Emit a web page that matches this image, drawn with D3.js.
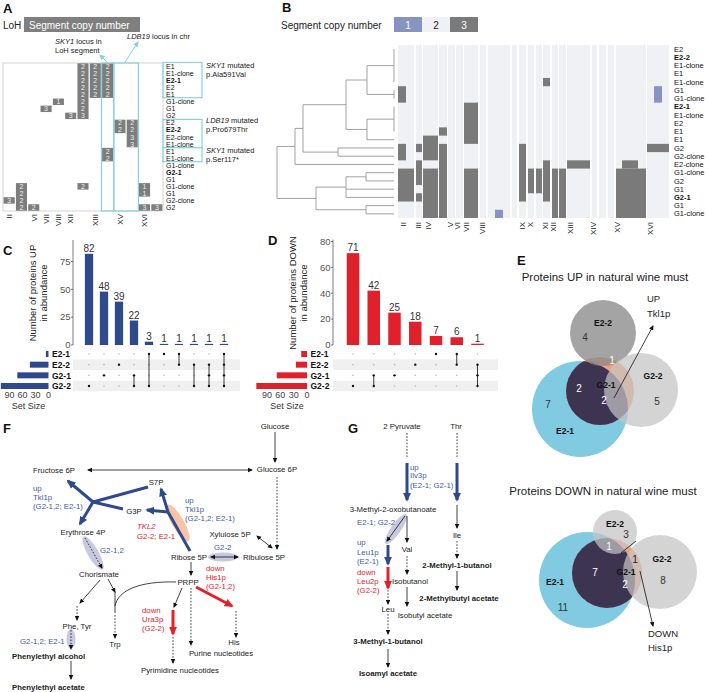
<!DOCTYPE html>
<html><head><meta charset="utf-8">
<script src="https://cdn.jsdelivr.net/npm/d3@7"></script>
<style>body{margin:0;background:#fff}svg{display:block}</style>
</head><body>
<script>
// ================= DATA =================
// Panel A
const aRowLabels = ["E1","E1-clone","E2-1","E2","E1","G1-clone","G1","G2","E2","E2-2","E2-clone","E1-clone","E1","E1-clone","G1-clone","G2-1","G1","G1-clone","G1","G2-clone","G2"];
const aColLabels = ["II","","VI","VII","VIII","XII","","XIII","","XV","","XVI",""];
// [column, first row, copy numbers]
const aSegments = [
  [6,0,[2,2,2,2,2,2,2,3]],[7,0,[2,2,2,2,2]],[8,0,[2,2,2,2,2]],[4,5,[1]],[3,6,[3]],[5,7,[3]],
  [9,8,[2,2]],[10,8,[2,2,3,3]],[8,12,[2,2]],[6,17,[2]],[11,17,[1,1]],[0,19,[3]],
  [1,17,[2,2,2,2]],[2,20,[2]],[11,20,[3]],[12,20,[3]]
];
// Panel B
const bRowLabels = ["E2","E2-2","E1-clone","E1","E1-clone","G1","G1-clone","E2-1","E1-clone","E2","E1","E1","G2","G2-clone","E2-clone","G1-clone","G2","G1","G2-1","G1","G1-clone"];
const bChromLabels = ["II","III","IV","V","VI","VII","VIII","IX","X","XI","XII","XIII","XIV","XV","XVI"];
const bChromPos = [5,20,30,52,59,68,84,124,132,147,155,172,195,219,252];
const bSegments = [[0,16],[18,24],[25,40],[41,49],[50,57],[58,65],[66,80],[82,88],[90,112],[114,119],[121,128],[130,136],[138,144],[145,152],[154,160],[161,168],[169,192],[194,199],[201,208],[210,216],[218,248],[249,271]];
// [start, end, firstRow, lastRow, copy number]
const bBlocks = [
  [0,8,5,6,3],[145,152,4,4,3],[66,80,7,11,3],[41,49,10,10,3],[25,40,11,13,3],[41,49,12,20,3],
  [0,8,12,13,3],[18,24,12,12,3],[18,24,14,16,3],[18,24,18,18,3],[0,16,15,18,3],[25,40,15,20,3],
  [66,80,15,20,3],[97,105,20,20,1],[121,128,12,18,3],[130,136,15,17,3],[138,144,15,17,3],
  [145,152,14,18,3],[154,160,15,20,3],[161,168,15,20,3],[169,192,14,14,3],[218,248,15,20,3],
  [224,240,14,14,3],[256,264,5,6,1],[249,271,12,12,3]
];
// dendrogram: [height, children...], leaves = row index
const bTree = [117,
  [99,[91,[48,[27,[0,0,1,2,3,4],[0,5,6]],[27,[0,7,8,9,10],11]],[56,12,13]],14],
  [78,[48,[28,15,16],17,18],[28,19,20]]];
// Panel C / D (UpSet)
const setNames = ["E2-1","E2-2","G2-1","G2-2"];
const upCounts = [82,48,39,22,3,1,1,1,1,1];
const upMembers = [["G2-2"],["G2-1"],["E2-2"],["G2-1","G2-2"],["E2-1","G2-2"],["E2-1"],["E2-1","E2-2"],["E2-2","G2-2"],["E2-2","G2-1","G2-2"],["E2-1","E2-2","G2-1","G2-2"]];
const upTicks = [0,25,50,75];
const downCounts = [71,42,25,18,7,6,1];
const downMembers = [["G2-2"],["G2-1","G2-2"],["G2-1"],["E2-2"],["E2-1"],["E2-1","E2-2"],["E2-2","G2-1","G2-2"]];
const downTicks = [0,20,40,60,80];
const setSizeTicks = [90,60,30,0];
// Panel E (Venn)
const vennUpCounts = {"E2-2":4,"E2-2&G2-1":1,"E2-1&G2-1":2,"E2-1&G2-1&G2-2":2,"G2-2":5,"E2-1":7};
const vennDownCounts = {"E2-2":3,"E2-1&E2-2&G2-1":1,"G2-1&G2-2":1,"E2-1&G2-1":7,"E2-1&G2-1&G2-2":2,"G2-2":8,"E2-1":11};

// ================= DRAW =================
const FONT = '"Liberation Sans", Arial, Helvetica, sans-serif';
const svg = d3.select("body").append("svg").attr("width",708).attr("height",692).style("font-family",FONT);
const defs = svg.append("defs");
function marker(id,color,size){
  defs.append("marker").attr("id",id).attr("viewBox","0 0 10 10").attr("refX",8).attr("refY",5)
    .attr("markerUnits","userSpaceOnUse").attr("markerWidth",size).attr("markerHeight",size)
    .attr("orient","auto-start-reverse").append("path").attr("d","M0,0.5 L10,5 L0,9.5 z").attr("fill",color);
}
const BLUE="#2f4a8c", RED="#e3212b", TBLUE="#3e5aa6", CYAN="#86d4da";
marker("mk","#111",5); marker("mb",BLUE,9); marker("mr",RED,9); marker("mc",CYAN,6);

function T(g,x,y,s,o={}){
  const t=g.append("text").attr("x",x).attr("y",y).text(s).attr("font-size",o.fs||8).attr("fill",o.fill||"#222");
  if(o.bold) t.attr("font-weight","bold"); if(o.italic) t.attr("font-style","italic");
  if(o.anchor) t.attr("text-anchor",o.anchor);
  if(o.rot!=null) t.attr("transform",`rotate(${o.rot},${x},${y})`);
  return t;
}
function rich(g,x,y,parts,o={}){
  const t=T(g,x,y,"",o); parts.forEach(p=>{const s=t.append("tspan").text(p[0]); if(p[1]) s.attr("font-style","italic");}); return t;
}
function L(g,x1,y1,x2,y2,st){
  const s={s:{c:"#111",w:0.8,m:"mk"},d:{c:"#111",w:0.8,m:"mk",dash:"1.6,1.6"},dn:{c:"#111",w:0.8,dash:"1.6,1.6"},
    n:{c:"#111",w:0.8},B:{c:BLUE,w:3,m:"mb"},b:{c:BLUE,w:3},R:{c:RED,w:3,m:"mr"},S:{c:"#111",w:0.8,m:"mk",two:true}}[st];
  const l=g.append("line").attr("x1",x1).attr("y1",y1).attr("x2",x2).attr("y2",y2).attr("stroke",s.c).attr("stroke-width",s.w);
  if(s.dash) l.attr("stroke-dasharray",s.dash);
  if(s.m) l.attr("marker-end",`url(#${s.m})`);
  if(s.two) l.attr("marker-start",`url(#${s.m})`);
  return l;
}
const letter=(x,y,s)=>T(svg,x,y,s,{fs:13,bold:true,fill:"#111"});

// ---------- Panel A ----------
const gA=svg.append("g");
letter(3,13,"A");
T(gA,3,29,"LoH",{fs:10,fill:"#222"});
gA.append("rect").attr("x",24).attr("y",17).attr("width",116).attr("height",15).attr("fill","#7f7f7f");
T(gA,29,28.5,"Segment copy number",{fs:10,fill:"#fff"});
const aX=d3.scaleBand().domain(d3.range(aColLabels.length)).range([3,163]).paddingInner(0.1).paddingOuter(0.05);
const aY=d3.scaleBand().domain(d3.range(aRowLabels.length)).range([63,211]);
gA.append("rect").attr("x",3).attr("y",63).attr("width",160).attr("height",148).attr("fill","none").attr("stroke","#d4d4d4");
aSegments.forEach(([c,r,vals])=>{
  gA.append("rect").attr("x",aX(c)).attr("y",aY(r)+0.3).attr("width",aX.bandwidth()).attr("height",aY.step()*vals.length-0.6).attr("fill","#7d7d7d");
  vals.forEach((v,i)=>T(gA,aX(c)+aX.bandwidth()/2,aY(r+i)+aY.step()/2+2.5,v,{fs:7,fill:"#eee",anchor:"middle"}));
});
const cyanBox=(x,y,w,h)=>gA.append("rect").attr("x",x).attr("y",y).attr("width",w).attr("height",h).attr("fill","none").attr("stroke",CYAN).attr("stroke-width",1.2);
cyanBox(aX(8)-0.6,63,aX(9)-aX(8),148);
cyanBox(aX(9)-0.6,63,aX(11)-aX(9),148);
cyanBox(163,aY(0)-0.5,39,aY.step()*5);
cyanBox(163,aY(8),39,aY.step()*4);
cyanBox(163,aY(12),39,aY.step()*2);
aRowLabels.forEach((s,i)=>T(gA,166,aY(i)+aY.step()/2+2.5,s,{fs:7,bold:["E2-1","E2-2","G2-1"].includes(s),fill:"#111"}));
aColLabels.forEach((s,i)=>{ if(s) T(gA,aX(i)+aX.bandwidth()/2+2.8,214,s,{fs:8,rot:-90,anchor:"end",fill:"#222"}); });
rich(gA,206,68,[["SKY1",1],[" mutated"]],{fs:7.5});
T(gA,206,77,"p.Ala591Val",{fs:7.5});
rich(gA,206,123,[["LDB19",1],[" mutated"]],{fs:7.5});
T(gA,206,132,"p.Pro679Thr",{fs:7.5});
rich(gA,206,153,[["SKY1",1],[" mutated"]],{fs:7.5});
T(gA,206,162,"p.Ser117*",{fs:7.5});
rich(gA,55,44,[["SKY1",1],[" locus in"]],{fs:7.5});
T(gA,55,53,"LoH segment",{fs:7.5});
rich(gA,127,39,[["LDB19",1],[" locus in chr"]],{fs:7.5});
gA.append("line").attr("x1",107).attr("y1",62).attr("x2",100).attr("y2",55).attr("stroke",CYAN).attr("stroke-width",1).attr("marker-end","url(#mc)");
gA.append("line").attr("x1",125).attr("y1",62).attr("x2",138).attr("y2",42).attr("stroke",CYAN).attr("stroke-width",1).attr("marker-end","url(#mc)");

// ---------- Panel B ----------
const gB=svg.append("g");
letter(282,12,"B");
T(gB,281,29,"Segment copy number",{fs:10});
[["1","#8794c2","#fff"],["2","#eff1f5","#222"],["3","#7a7a7a","#fff"]].forEach((d,i)=>{
  gB.append("rect").attr("x",394+28*i).attr("y",17).attr("width",28).attr("height",15).attr("fill",d[1]);
  T(gB,408+28*i,28.5,d[0],{fs:10,fill:d[2],anchor:"middle"});
});
const bX=d3.scaleLinear().domain([0,271]).range([398,669]);
const bY=d3.scaleBand().domain(d3.range(bRowLabels.length)).range([45,218]);
bSegments.forEach(([a,b])=>gB.append("rect").attr("x",bX(a)).attr("y",45).attr("width",bX(b)-bX(a)).attr("height",173).attr("fill","#eff1f5"));
bBlocks.forEach(([a,b,r0,r1,cn])=>gB.append("rect").attr("x",bX(a)).attr("y",bY(r0)).attr("width",bX(b)-bX(a)).attr("height",bY(r1)+bY.step()-bY(r0)).attr("fill",cn===1?"#8794c2":"#7a7a7a"));
bRowLabels.forEach((s,i)=>T(gB,674,bY(i)+bY.step()/2+2.6,s,{fs:7.5,bold:[1,7,18].includes(i),fill:"#111"}));
bChromLabels.forEach((s,i)=>T(gB,bX(bChromPos[i])+2.8,222,s,{fs:8,rot:-90,anchor:"end",fill:"#222"}));
function dend(node){
  if(typeof node==="number") return {x:394,y:bY(node)+bY.step()/2};
  const h=node[0], kids=node.slice(1).map(dend), x=394-h;
  const ys=kids.map(k=>k.y), y0=d3.min(ys), y1=d3.max(ys);
  gB.append("line").attr("x1",x).attr("x2",x).attr("y1",y0).attr("y2",y1).attr("stroke","#8a8a8a").attr("stroke-width",0.8);
  kids.forEach(k=>{ if(k.x!==x) gB.append("line").attr("x1",x).attr("x2",k.x).attr("y1",k.y).attr("y2",k.y).attr("stroke","#8a8a8a").attr("stroke-width",0.8); });
  return {x,y:(y0+y1)/2};
}
dend(bTree);

// ---------- Panels C & D (UpSet) ----------
function upset(cfg){
  const g=svg.append("g");
  const n=cfg.counts.length;
  const x=d3.scalePoint().domain(d3.range(n)).range(cfg.xr);
  const y=d3.scaleLinear().domain([0,cfg.ymax]).range([345,cfg.ytop]);
  const rowY=d3.scalePoint().domain(setNames).range([354,386]);
  [1,3].forEach(i=>g.append("rect").attr("x",cfg.axisX).attr("y",rowY(setNames[i])-5.3).attr("width",cfg.bandW).attr("height",10.6).attr("fill","#f0f0f0"));
  g.append("line").attr("x1",cfg.axisX).attr("x2",cfg.axisX).attr("y1",345).attr("y2",cfg.ytop-2).attr("stroke","#444").attr("stroke-width",0.7);
  cfg.ticks.forEach(t=>{
    g.append("line").attr("x1",cfg.axisX-2).attr("x2",cfg.axisX).attr("y1",y(t)).attr("y2",y(t)).attr("stroke","#444").attr("stroke-width",0.7);
    T(g,cfg.axisX-2.5,y(t)+3.3,t,{fs:9.5,anchor:"end",fill:"#555"});
  });
  T(g,cfg.axisX-37,293,cfg.title1,{fs:9.5,rot:-90,anchor:"middle",fill:"#222"});
  T(g,cfg.axisX-26,293,"in abundance",{fs:9.5,rot:-90,anchor:"middle",fill:"#222"});
  cfg.counts.forEach((v,i)=>{
    g.append("rect").attr("x",x(i)-cfg.bw/2).attr("y",y(v)).attr("width",cfg.bw).attr("height",345-y(v)).attr("fill",cfg.color);
    T(g,x(i),y(v)-2,v,{fs:10,anchor:"middle",fill:"#333"});
  });
  cfg.members.forEach((m,i)=>{
    setNames.forEach(s=>{ if(!m.includes(s)) g.append("circle").attr("cx",x(i)).attr("cy",rowY(s)).attr("r",0.8).attr("fill","#bbb"); });
    const ys=m.map(s=>rowY(s));
    if(ys.length>1) g.append("line").attr("x1",x(i)).attr("x2",x(i)).attr("y1",d3.min(ys)).attr("y2",d3.max(ys)).attr("stroke","#222").attr("stroke-width",0.9);
    ys.forEach(yy=>g.append("circle").attr("cx",x(i)).attr("cy",yy).attr("r",1.2).attr("fill","#111"));
  });
  const sizes=setNames.map(s=>d3.sum(cfg.counts.filter((c,i)=>cfg.members[i].includes(s))));
  const sx=d3.scaleLinear().domain([0,90]).range([cfg.s0,cfg.s0-cfg.s90]);
  setNames.forEach((s,i)=>{
    g.append("rect").attr("x",sx(sizes[i])).attr("y",rowY(s)-3).attr("width",cfg.s0-sx(sizes[i])).attr("height",6).attr("fill",cfg.color);
    T(g,cfg.s0+3.5,rowY(s)+3.2,s,{fs:8.5,bold:true,fill:"#111"});
  });
  setSizeTicks.forEach(t=>T(g,sx(t),398,t,{fs:9,anchor:"middle",fill:"#444"}));
  T(g,cfg.s0-20,409,"Set Size",{fs:9,anchor:"middle",fill:"#333"});
}
letter(3,255,"C");
upset({counts:upCounts,members:upMembers,ticks:upTicks,ymax:92.6,ytop:242,xr:[89,224],bw:8.3,color:"#2f4a8c",axisX:73,bandW:167,title1:"Number of proteins UP",s0:48.5,s90:39});
letter(268,245,"D");
upset({counts:downCounts,members:downMembers,ticks:downTicks,ymax:80,ytop:241.5,xr:[353,477.5],bw:12.5,color:"#e0202a",axisX:333,bandW:165,title1:"Number of proteins DOWN",s0:307,s90:40});

// ---------- Panel E (Venn) ----------
letter(517,265,"E");
function venn(cfg){
  const g=svg.append("g");
  const C=cfg.c, id=cfg.id;
  g.append("circle").attr("cx",C.E21[0]).attr("cy",C.E21[1]).attr("r",C.E21[2]).attr("fill","#80cbe2");
  g.append("circle").attr("cx",C.G21[0]).attr("cy",C.G21[1]).attr("r",C.G21[2]).attr("fill","#f2a07c");
  defs.append("clipPath").attr("id",id).append("circle").attr("cx",C.E21[0]).attr("cy",C.E21[1]).attr("r",C.E21[2]);
  g.append("circle").attr("cx",C.G21[0]).attr("cy",C.G21[1]).attr("r",C.G21[2]).attr("fill","#3d3452").attr("clip-path",`url(#${id})`);
  g.append("circle").attr("cx",C.E22[0]).attr("cy",C.E22[1]).attr("r",C.E22[2]).attr("fill",cfg.e22col).attr("fill-opacity",cfg.e22op);
  g.append("circle").attr("cx",C.G22[0]).attr("cy",C.G22[1]).attr("r",C.G22[2]).attr("fill","#c4c4c4").attr("fill-opacity",0.72);
  cfg.labels.forEach(l=>T(g,l[0],l[1],l[2],{fs:l[4]?8.5:10,bold:!!l[4],fill:l[3],anchor:"middle"}));
  return g;
}
T(svg,605,281,"Proteins UP in natural wine must",{fs:11.5,anchor:"middle",fill:"#222"});
const vu=venn({id:"cu",c:{E21:[580,409,48],G21:[600,391,34],E22:[603,333,33],G22:[641,390,37]},e22col:"#8a8a8a",e22op:0.78,
  labels:[[603,326,"E2-2","#111",1],[585,341,vennUpCounts["E2-2"],"#333"],[612,364,vennUpCounts["E2-2&G2-1"],"#fff"],
    [606,388,"G2-1","#111",1],[579,392,vennUpCounts["E2-1&G2-1"],"#fff"],[604,404,vennUpCounts["E2-1&G2-1&G2-2"],"#fff"],
    [653,379,"G2-2","#111",1],[657,405,vennUpCounts["G2-2"],"#333"],[548,408,vennUpCounts["E2-1"],"#333"],[565,434,"E2-1","#111",1]]});
L(vu,614,398,653,326,"s");
T(svg,647,302,"UP",{fs:9.5});
T(svg,647,317,"Tkl1p",{fs:9.5});
T(svg,603,495,"Proteins DOWN in natural wine must",{fs:11.5,anchor:"middle",fill:"#222"});
const vd=venn({id:"cd",c:{E21:[587,580,48],G21:[607,573,35],E22:[615,532,22],G22:[660,572,37]},e22col:"#c4c4c4",e22op:0.72,
  labels:[[615,527,"E2-2","#111",1],[626,538,vennDownCounts["E2-2"],"#333"],[609,550,vennDownCounts["E2-1&E2-2&G2-1"],"#fff"],
    [635,563,vennDownCounts["G2-1&G2-2"],"#222"],[662,562,"G2-2","#111",1],[595,576,vennDownCounts["E2-1&G2-1"],"#fff"],
    [626,575,"G2-1","#111",1],[625,588,vennDownCounts["E2-1&G2-1&G2-2"],"#fff"],[663,584,vennDownCounts["G2-2"],"#333"],
    [555,585,"E2-1","#111",1],[563,611,vennDownCounts["E2-1"],"#333"]]});
L(vd,621,553,636,541,"n");
L(vd,640,571,653,626,"s");
T(svg,648,637,"DOWN",{fs:9.5});
T(svg,648,651,"His1p",{fs:9.5});

// ---------- Panel F ----------
const gF=svg.append("g");
letter(3,433,"F");
const ell=(g,cx,cy,rx,ry,rot,col)=>g.append("ellipse").attr("cx",cx).attr("cy",cy).attr("rx",rx).attr("ry",ry).attr("fill",col).attr("transform",`rotate(${rot},${cx},${cy})`);
ell(gF,178,523,21,6,60,"#f8c3a6");
ell(gF,93,553,19,5.5,60,"#c8c9de");
ell(gF,223,557,15,4.5,0,"#c8c9de");
ell(gF,71,639,4.5,10,0,"#c8c9de");
const fText=[["Glucose",275,429],["Glucose 6P",277,472],["Fructose 6P",54,473],["S7P",156,485],
 ["G3P",134,514],["Erythrose 4P",83,535],["Xylulose 5P",230,537],["Ribose 5P",189,560],
 ["Ribulose 5P",264,560],["Chorismate",99,577],["PRPP",188,585],["Phe, Tyr",77,629],
 ["Trp",115,647],["His",234,645],["Purine nucleotides",221,656],["Pyrimidine nucleotides",180,673]];
fText.forEach(d=>T(gF,d[1],d[2],d[0],{fs:7.8,anchor:"middle",fill:"#222"}));
T(gF,12,659,"Phenylethyl alcohol",{fs:7.8,bold:true});
T(gF,12,690,"Phenylethyl acetate",{fs:7.8,bold:true});
[["up",491],["Tkl1p",500],["(G2-1,2; E2-1)",509]].forEach(d=>T(gF,33,d[1],d[0],{fs:7.8,fill:TBLUE}));
[["up",503],["Tkl1p",512],["(G2-1,2; E2-1)",521]].forEach(d=>T(gF,185,d[1],d[0],{fs:7.8,fill:TBLUE}));
T(gF,137,529,"TKL2",{fs:7.8,italic:true,fill:RED});
T(gF,137,539,"G2-2; E2-1",{fs:7.8,fill:RED});
T(gF,100,553,"G2-1,2",{fs:7.8,fill:TBLUE});
T(gF,214,550,"G2-2",{fs:7.8,fill:TBLUE});
[["down",571],["His1p",580],["(G2-1,2)",589]].forEach(d=>T(gF,206,d[1],d[0],{fs:7.8,fill:RED}));
[["down",613],["Ura3p",622],["(G2-2)",631]].forEach(d=>T(gF,142,d[1],d[0],{fs:7.8,fill:RED}));
T(gF,20,644,"G2-1,2; E2-1",{fs:7.8,fill:TBLUE});
const fLines=[[275,432,275,462,"s"],[252,470,88,470,"S"],[277,477,277,549,"d"],[257,536,272,548,"S"],[211,557,238,557,"S"],
 [148,487,93,502,"b"],[123,509,93,502,"b"],[93,502,68,481,"B"],[93,502,80,524,"B"],
 [190,551,168,512,"b"],[168,512,161,489,"B"],[168,512,147,510,"B"],
 [85,538,102,568,"d"],[100,580,80,603,"s"],[77,606,77,620,"d"],[108,579,115,592,"s"],[115,592,115,613,"n"],[115,615,115,638,"d"],
 [191,562,191,575,"s"],[182,588,174,607,"s"],[173,610,173,634,"R"],[173,637,173,663,"d"],[191,588,191,645,"d"],
 [196,587,232,606,"R"],[236,611,236,637,"d"],[71,630,71,649,"d"],[71,661,71,679,"s"]];
fLines.forEach(d=>L(gF,...d));
gF.append("path").attr("d","M176,582 C140,581 118,590 115,606").attr("fill","none").attr("stroke","#111").attr("stroke-width",0.8);

// ---------- Panel G ----------
const gG=svg.append("g");
letter(348,433,"G");
ell(gG,396,529,18,5,-55,"#c8c9de");
[["2 Pyruvate",402,429],["Thr",456,429],["3-Methyl-2-oxobutanoate",393,512],["Val",407,552],["Ile",457,538],
 ["Isobutanol",410,584],["Isobutyl acetate",425,618],["Leu",388,612]].forEach(d=>T(gG,d[1],d[2],d[0],{fs:7.8,anchor:"middle"}));
[["2-Methyl-1-butanol",457,568],["2-Methylbutyl acetate",459,601],["3-Methyl-1-butanol",388,644],["Isoamyl acetate",388,676]]
  .forEach(d=>T(gG,d[1],d[2],d[0],{fs:7.8,anchor:"middle",bold:true}));
[["up",470],["Ilv3p",478],["(E2-1; G2-1)",488]].forEach(d=>T(gG,410,d[1],d[0],{fs:7.8,fill:TBLUE}));
T(gG,357,525,"E2-1; G2-2",{fs:7.8,fill:TBLUE});
[["up",545],["Leu1p",555],["(E2-1)",564]].forEach(d=>T(gG,357,d[1],d[0],{fs:7.8,fill:TBLUE}));
[["down",575],["Leu2p",584],["(G2-2)",593]].forEach(d=>T(gG,357,d[1],d[0],{fs:7.8,fill:RED}));
const gLines=[[407,433,407,458,"dn"],[407,463,407,500,"B"],[457,433,457,458,"dn"],[457,463,457,500,"B"],[457,505,457,528,"s"],
 [405,516,387,541,"s"],[407,516,407,542,"s"],[407,556,407,574,"d"],[407,587,407,606,"s"],
 [388,545,388,564,"B"],[388,567,388,588,"R"],[388,590,388,604,"d"],[388,614,388,634,"d"],[388,649,388,667,"s"],
 [457,541,457,558,"d"],[457,571,457,590,"s"]];
gLines.forEach(d=>L(gG,...d));
</script>
</body></html>
